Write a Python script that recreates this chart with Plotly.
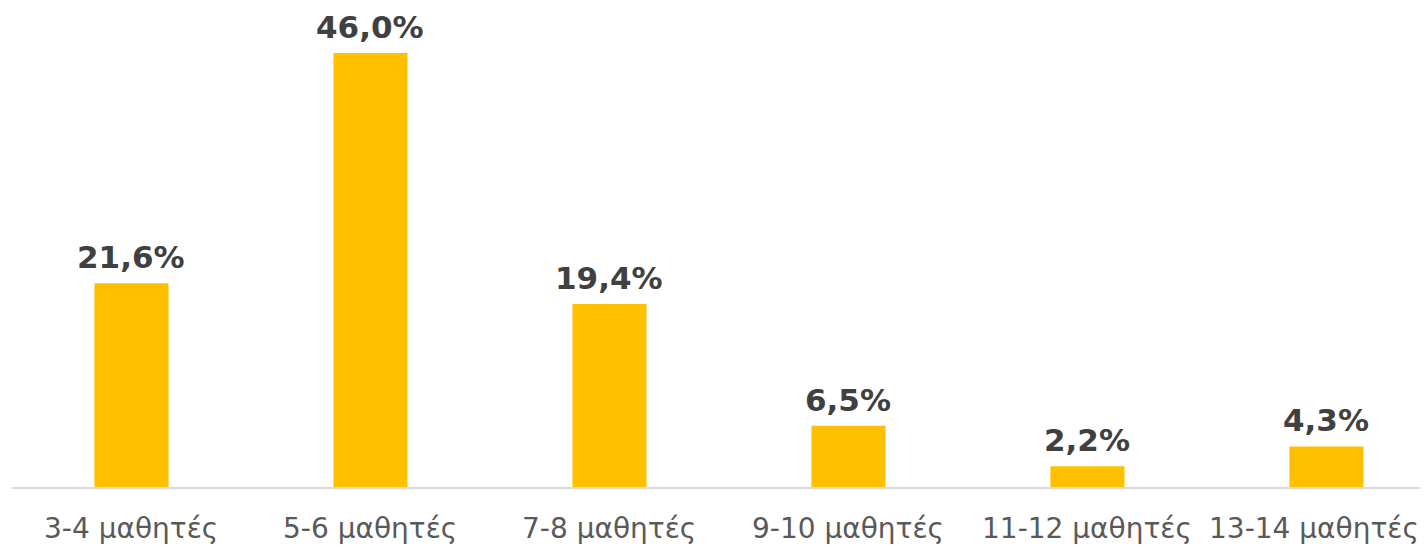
import plotly.graph_objects as go

categories = ["3-4 μαθητές", "5-6 μαθητές", "7-8 μαθητές", "9-10 μαθητές", "11-12 μαθητές", "13-14 μαθητές"]
values = [21.6, 46.0, 19.4, 6.5, 2.2, 4.3]
labels = ["21,6%", "46,0%", "19,4%", "6,5%", "2,2%", "4,3%"]

xs = list(range(len(categories)))

fig = go.Figure(go.Bar(
    x=xs,
    y=values,
    marker=dict(color="#FFC000", line=dict(width=0)),
    width=0.31,
    hoverinfo="skip",
))

for x, v, t in zip(xs, values, labels):
    fig.add_annotation(
        x=x, y=v, text=t, showarrow=False,
        xanchor="center", yanchor="bottom", yshift=6,
        font=dict(family="DejaVu Sans", size=31, color="#404040", weight="bold"),
    )

for x, c in zip(xs, categories):
    fig.add_annotation(
        x=x, xref="x", y=0, yref="paper", text=c, showarrow=False,
        xanchor="center", yanchor="middle", yshift=-41,
        xshift=-12 if x == len(categories) - 1 else 0,
        font=dict(family="DejaVu Sans", size=28, color="#595959"),
    )

fig.update_layout(
    width=1420, height=541,
    margin=dict(l=4, r=0, t=0, b=62, autoexpand=False),
    paper_bgcolor="white", plot_bgcolor="white",
    showlegend=False,
    xaxis=dict(
        range=[-0.5, 5.425],
        showline=True, linecolor="#D9D9D9", linewidth=2,
        showgrid=False, zeroline=False, ticks="", showticklabels=False,
        automargin=False,
    ),
    yaxis=dict(range=[0, 50.77], visible=False, showgrid=False, zeroline=False, automargin=False),
)

fig.write_html("out.html")
